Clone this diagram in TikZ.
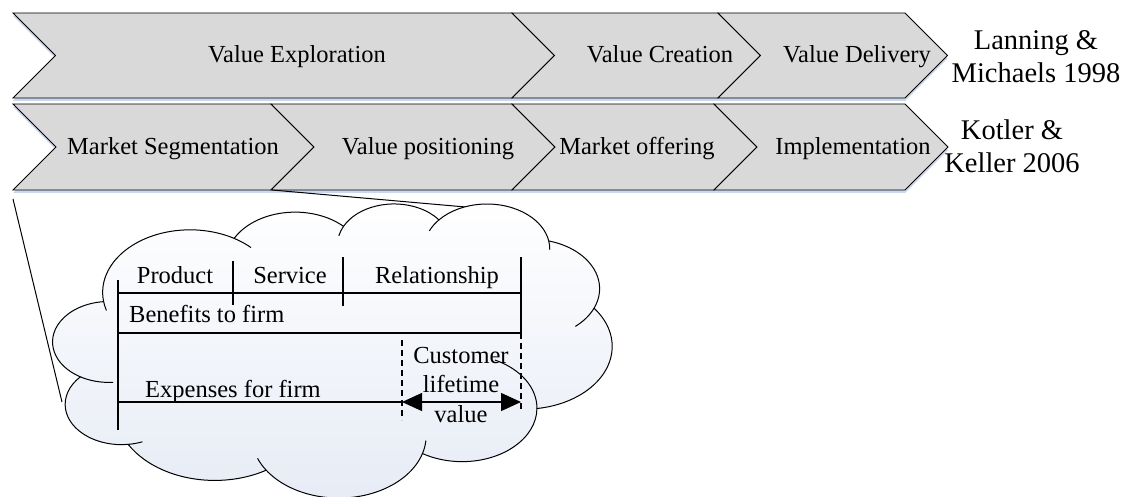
\documentclass[tikz,border=0pt]{standalone}
\usepackage{fontspec}
\setmainfont{Liberation Serif}
\usetikzlibrary{arrows.meta, positioning, calc}
\definecolor{chevgray}{HTML}{D9D9D9}
\definecolor{chevglow}{HTML}{CAD7ED}
\definecolor{cloudblue}{HTML}{E6EBF5}

\begin{document}
\begin{tikzpicture}[
    x=1pt, y=-1pt,
    chev/.style={draw=black, line width=0.9pt, fill=chevgray, line join=miter},
    glow/.style={fill=chevglow},
    stage/.style={font=\fontsize{24.5}{29.5}\selectfont, inner sep=0pt, anchor=base},
    source/.style={font=\fontsize{28.5}{33}\selectfont, inner sep=0pt, align=center},
    cloudline/.style={draw=black, line width=1pt},
    part/.style={line width=1.3pt},
    zoomline/.style={line width=1pt},
]
\useasboundingbox (0,0) rectangle (1129,497);

% two rows of chevrons, glow first then the shapes
\foreach \a/\b/\t/\u in {13/512/13/98, 512/718/13/98, 718/905/13/98,
    13/271/104/190, 271/512/104/190, 512/714/104/190, 714/905/104/190} {
  \pgfmathsetmacro\h{(\u-\t)/2}
  \fill[glow, yshift=-3pt] (\a,\t) -- (\b,\t) -- ++(\h,\h) -- (\b,\u) -- (\a,\u) -- ++(\h,-\h) -- cycle;
}
\foreach \a/\b/\t/\u in {13/512/13/98, 512/718/13/98, 718/905/13/98,
    13/271/104/190, 271/512/104/190, 512/714/104/190, 714/905/104/190} {
  \pgfmathsetmacro\h{(\u-\t)/2}
  \draw[chev] (\a,\t) -- (\b,\t) -- ++(\h,\h) -- (\b,\u) -- (\a,\u) -- ++(\h,-\h) -- cycle;
}

\node[stage] (vexp) at (297,63) {Value Exploration};
\node[stage] (vcre) at (660,63) {Value Creation};
\node[stage] (vdel) at (857,63) {Value Delivery};
\node[stage] (mseg) at (173,155) {Market Segmentation};
\node[stage] (vpos) at (428,155) {Value positioning};
\node[stage] (moff) at (637,155) {Market offering};
\node[stage] (impl) at (853,155) {Implementation};

\node[source] (lanning) at (1036,56.5) {Lanning \&\\Michaels 1998};
\node[source] (kotler) at (1012,146) {Kotler \&\\Keller 2006};

% zoom lines from the segmentation step
\coordinate (segcorner) at (13,199);
\coordinate (segtip) at (272,190);
\coordinate (cldleft) at (62,402);
\coordinate (cldtop) at (477,208);
\draw[zoomline] (segcorner) -- (cldleft);
\draw[zoomline] (segtip) -- (cldtop);

% cloud
\begin{scope}[shift={(53pt,-203pt)}, x=1.294pt, y=-0.6806pt]
\path[cloudline, top color=white, bottom color=cloudblue] (39,143.7)
  arc[start angle=-187.75, end angle=-59.67, x radius=67.53, y radius=91.90] coordinate (j1)
  arc[start angle=-152.02, end angle=-45.46, x radius=53.33, y radius=72.67] coordinate (j2)
  arc[start angle=-153.48, end angle=-37.33, x radius=43.65, y radius=59.45] coordinate (j3)
  arc[start angle=-139.71, end angle=-10.21, x radius=48.57, y radius=65.95] coordinate (j4)
  arc[start angle=-74.77, end angle=23.21, x radius=53.33, y radius=72.73] coordinate (j5)
  arc[start angle=-37.52, end angle=81.86, x radius=67.75, y radius=92.20] coordinate (j6)
  arc[start angle=0.46, end angle=121.97, x radius=57.85, y radius=78.67] coordinate (j7)
  arc[start angle=16.85, end angle=146.24, x radius=67.52, y radius=92.15] coordinate (j8)
  arc[start angle=59.04, end angle=150.17, x radius=77.20, y radius=105.43] coordinate (j9)
  arc[start angle=-276.70, end angle=-136.92, x radius=43.60, y radius=59.18] coordinate (j10)
  arc[start angle=-239.63, end angle=-95.89, x radius=43.45, y radius=59.45] -- cycle;
\draw[cloudline] (39,143.7) arc[start angle=172.25, end angle=163.19, x radius=67.53, y radius=91.90];
\draw[cloudline] (j1) arc[start angle=-59.67, end angle=-45.75, x radius=67.53, y radius=91.90];
\draw[cloudline] (j2) arc[start angle=-153.48, end angle=-167.73, x radius=43.65, y radius=59.45];
\draw[cloudline] (j3) arc[start angle=-139.71, end angle=-156.28, x radius=48.57, y radius=65.95];
\draw[cloudline] (j4) arc[start angle=-10.21, end angle=0.82, x radius=48.57, y radius=65.95];
\draw[cloudline] (j5) arc[start angle=23.21, end angle=49.65, x radius=53.33, y radius=72.73];
\draw[cloudline] (j6) arc[start angle=0.46, end angle=-64.01, x radius=57.85, y radius=78.67];
\draw[cloudline] (j7) arc[start angle=16.85, end angle=4.74, x radius=67.52, y radius=92.15];
\draw[cloudline] (j8) arc[start angle=146.24, end angle=158.48, x radius=67.52, y radius=92.15];
\draw[cloudline] (j9) arc[start angle=83.30, end angle=68.24, x radius=43.60, y radius=59.18];
\draw[cloudline] (j10) arc[start angle=120.37, end angle=85.54, x radius=43.45, y radius=59.45];
\end{scope}

% customer value chart inside the cloud
\draw[part] (118,280) -- (118,430);
\draw[part] (118,293) -- (521,293);
\draw[part] (233,261) -- (233,305);
\draw[part] (343,257) -- (343,306);
\draw[part] (521,257) -- (521,333);
\draw[part] (118,333) -- (521,333);
\draw[part, dash pattern=on 6pt off 4pt] (521,333) -- (521,410);
\draw[part, dash pattern=on 6pt off 4pt] (402,340) -- (402,420);
\draw[part] (118,402) -- (402,402);

\node[stage] (prod) at (175,283) {Product};
\node[stage] (serv) at (290,283) {Service};
\node[stage] (rel) at (437,283) {Relationship};
\node[stage, anchor=base west] (ben) at (129,322) {Benefits to firm};
\node[stage, anchor=base west] (expn) at (145,397) {Expenses for firm};
\node[stage, anchor=center, align=center] (clv) at (461,385) {Customer\\lifetime\\value};

\coordinate (clvl) at (402,402);
\coordinate (clvr) at (521,402);
\draw[part, {Triangle[length=20pt,width=18pt]}-{Triangle[length=20pt,width=18pt]}] (clvl) -- (clvr);
\end{tikzpicture}
\end{document}
